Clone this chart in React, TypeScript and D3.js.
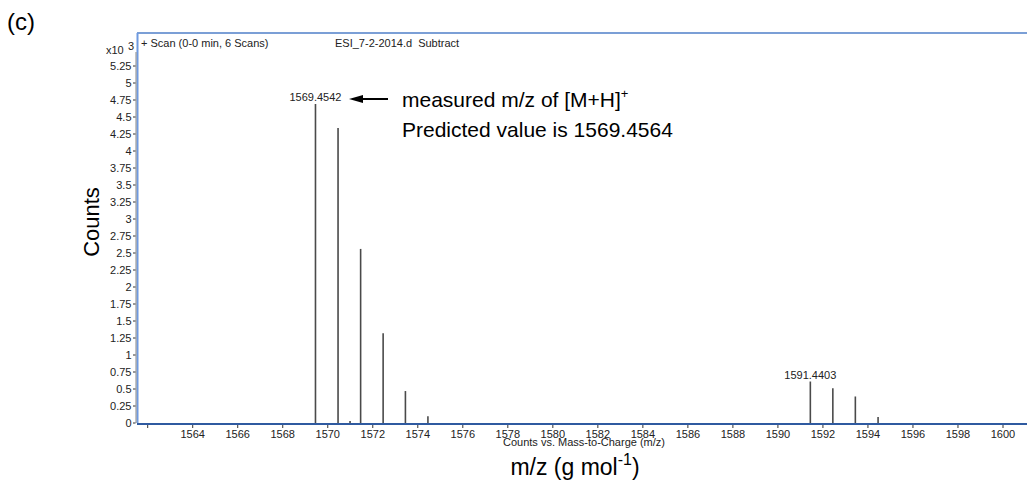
import React from "react";
import * as d3 from "d3";

const peakMz = [1569.4542, 1570.457, 1570.99, 1571.46, 1572.46, 1573.45, 1574.45, 1591.4403, 1592.44, 1593.44, 1594.45];
const peakCounts = [4.69, 4.34, 0.03, 2.56, 1.32, 0.47, 0.1, 0.61, 0.51, 0.39, 0.09];
const xTickValues = d3.range(1562, 1601, 2);
const yTickValues = d3.range(0, 5.26, 0.25);
const labeledPeaks = [
  { mz: 1569.4542, counts: 4.69, label: "1569.4542" },
  { mz: 1591.4403, counts: 0.61, label: "1591.4403" },
];

const W = 1027;
const H = 483;
const LEFT = 137;
const RIGHT = 1027;
const TOP = 33;
const BOTTOM = 423;

export default function App() {
  const x = d3.scaleLinear().domain([1562, 1600]).range([147.7, 1003]);
  const y = d3.scaleLinear().domain([0, 5.25]).range([BOTTOM, 66]);
  const small = { fontFamily: "'Liberation Sans', Arial, sans-serif", fontSize: 11, fill: "#222" };
  const big = { fontFamily: "'Liberation Sans', Arial, sans-serif", fill: "#000" };
  const fmt = (v: number) => d3.format("")(+v.toFixed(2));
  return (
    <svg width={W} height={H} style={{ position: "absolute", left: 0, top: 0, background: "#fff" }}>
      <text x={7} y={30} style={{ ...big, fontSize: 24 }}>(c)</text>
      {/* frame */}
      <line x1={LEFT} x2={RIGHT} y1={TOP} y2={TOP} stroke="#4f7fc9" strokeWidth={1.5} />
      <line x1={LEFT + 0.5} x2={LEFT + 0.5} y1={TOP} y2={BOTTOM} stroke="#6f9ae0" strokeWidth={2} />
      <line x1={LEFT - 1} x2={LEFT - 1} y1={52} y2={BOTTOM} stroke="#888" strokeWidth={1} />
      {/* header */}
      <text x={141} y={47} style={small}>+ Scan (0-0 min, 6 Scans)</text>
      <text x={335} y={47} style={small}>{"ESI_7-2-2014.d\u00a0\u00a0Subtract"}</text>
      <text x={106} y={54} style={small}>x10</text>
      <text x={128} y={50} style={small}>3</text>
      {/* y ticks */}
      {yTickValues.map((v) => (
        <g key={"y" + v}>
          <line x1={133} x2={135.5} y1={y(v)} y2={y(v)} stroke="#333" />
          <text x={131.5} y={y(v)} dy="0.35em" textAnchor="end" style={small}>{fmt(v)}</text>
        </g>
      ))}
      {/* peaks */}
      {peakMz.map((m, i) => (
        <line key={"p" + i} x1={x(m)} x2={x(m)} y1={BOTTOM} y2={y(peakCounts[i])} stroke="#4a4a4a" strokeWidth={1.6} />
      ))}
      {/* x axis */}
      <line x1={LEFT} x2={RIGHT} y1={BOTTOM + 1} y2={BOTTOM + 1} stroke="#2f5aa0" strokeWidth={2} />
      {xTickValues.map((v) => (
        <g key={"x" + v}>
          <line x1={x(v)} x2={x(v)} y1={BOTTOM + 2} y2={BOTTOM + 5} stroke="#333" />
          {v > 1562 && (
            <text x={x(v)} y={438} textAnchor="middle" style={small}>{v}</text>
          )}
        </g>
      ))}
      <text x={503} y={446} style={small}>Counts vs. Mass-to-Charge (m/z)</text>
      {/* peak labels */}
      {labeledPeaks.map((p) => (
        <text key={p.label} x={x(p.mz)} y={y(p.counts) - 3} textAnchor="middle" style={small}>{p.label}</text>
      ))}
      {/* arrow */}
      <line x1={358} x2={388} y1={99} y2={99} stroke="#000" strokeWidth={2} />
      <path d="M349,99 L363,95 L363,103 Z" fill="#000" />
      <text x={402} y={107} style={{ ...big, fontSize: 21 }}>
        measured m/z of [M+H]<tspan dy={-9} fontSize={13}>+</tspan>
      </text>
      <text x={402} y={137} style={{ ...big, fontSize: 21 }}>Predicted value is 1569.4564</text>
      {/* axis titles */}
      <text transform="translate(99,222) rotate(-90)" textAnchor="middle" style={{ ...big, fontSize: 22 }}>Counts</text>
      <text x={575} y={475} textAnchor="middle" style={{ ...big, fontSize: 23 }}>
        m/z (g mol<tspan dy={-10} fontSize={16}>-1</tspan><tspan dy={10}>)</tspan>
      </text>
    </svg>
  );
}
